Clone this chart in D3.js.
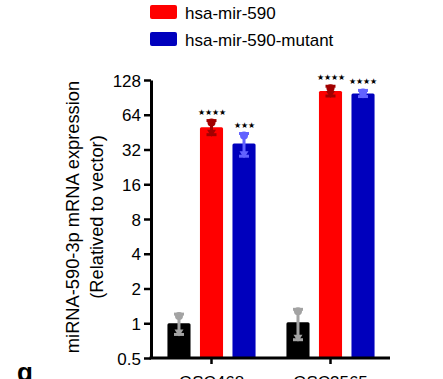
<!DOCTYPE html>
<html><head><meta charset="utf-8">
<script src="https://cdn.jsdelivr.net/npm/d3@7"></script>
<style>
html,body{margin:0;padding:0;background:#fff;overflow:hidden}
text{font-family:"Liberation Sans",Arial,sans-serif}
</style></head>
<body><svg id="c" width="443" height="379"></svg>
<script>
const categories = ["GSC468", "GSC3565"];
const series = ["vector", "hsa-mir-590", "hsa-mir-590-mutant"];
const legendSeries = ["hsa-mir-590", "hsa-mir-590-mutant"];
const meanVector = [1.0, 1.02];
const meanMir = [50, 103];
const meanMutant = [36, 98];
const sdVector = [0.2, 0.3];
const sdMir = [7, 10];
const sdMutant = [8, 6];
const stars = [["", "****", "***"], ["", "****", "****"]];
const yTicks = [0.5, 1, 2, 4, 8, 16, 32, 64, 128];
const yTickLabels = ["0.5", "1", "2", "4", "8", "16", "32", "64", "128"];

(function () {
const barColors = ["#000000", "#ff0000", "#0000bd"];
const errColors = ["#a3a3a3", "#a10000", "#6262ff"];

const svg = d3.select("#c");
const mLeft = 151, mRight = 390, mTop = 80, mBottom = 358;

const y = d3.scaleLog().base(2).domain([0.5, 128]).range([mBottom, mTop]);
const x0 = d3.scaleBand().domain(categories).range([152, mRight]).paddingInner(0).paddingOuter(0);
const x1 = d3.scaleBand().domain(series).range([0, x0.bandwidth()]).paddingInner(0.29).paddingOuter(0.475);

const means = [meanVector, meanMir, meanMutant];
const sds = [sdVector, sdMir, sdMutant];
const data = [];
categories.forEach((c, ci) => series.forEach((s, si) => {
  data.push({c, s, si, m: means[si][ci], sd: sds[si][ci], star: stars[ci][si]});
}));

// bars
svg.append("g").selectAll("rect").data(data).join("rect")
  .attr("x", d => x0(d.c) + x1(d.s))
  .attr("width", x1.bandwidth())
  .attr("y", d => y(d.m))
  .attr("height", d => y(0.5) - y(d.m))
  .attr("fill", d => barColors[d.si])
  .attr("rx", 1.5);

// error bars
const eb = svg.append("g").selectAll("g").data(data).join("g")
  .attr("transform", d => `translate(${x0(d.c) + x1(d.s) + x1.bandwidth()/2},0)`);
eb.append("line")
  .attr("y1", d => y(d.m + d.sd)).attr("y2", d => y(d.m - d.sd))
  .attr("stroke", d => errColors[d.si]).attr("stroke-width", 3);
eb.append("line")
  .attr("x1", -5).attr("x2", 5)
  .attr("y1", d => y(d.m + d.sd)).attr("y2", d => y(d.m + d.sd))
  .attr("stroke", d => errColors[d.si]).attr("stroke-width", 3);
eb.append("line")
  .attr("x1", -5).attr("x2", 5)
  .attr("y1", d => y(d.m - d.sd)).attr("y2", d => y(d.m - d.sd))
  .attr("stroke", d => errColors[d.si]).attr("stroke-width", 3);
eb.append("path")
  .attr("d", d => { const yy = y(d.m - d.sd); return `M-4.5,${yy-5}L4.5,${yy-5}L0,${yy+2}Z`; })
  .attr("fill", d => errColors[d.si]);
eb.append("circle")
  .attr("cy", d => y(d.m + d.sd) + 2).attr("r", 4)
  .attr("fill", d => errColors[d.si]);

// stars
svg.append("g").selectAll("text").data(data.filter(d => d.star)).join("text")
  .attr("x", d => x0(d.c) + x1(d.s) + x1.bandwidth()/2)
  .attr("y", d => y(d.m + d.sd) - 6)
  .attr("text-anchor", "middle")
  .attr("font-family", "DejaVu Sans")
  .attr("font-size", 8)
  .attr("fill", "#000")
  .text(d => d.star.replace(/\*/g, "\u2605"));

// y axis
const yAxis = d3.axisLeft(y).tickValues(yTicks).tickFormat((d, i) => yTickLabels[i]).tickSize(7).tickPadding(3).tickSizeOuter(0);
const gy = svg.append("g").attr("transform", `translate(${mLeft},0)`).call(yAxis);
gy.select(".domain").attr("stroke", "#000").attr("stroke-width", 3);
gy.selectAll(".tick line").attr("stroke-width", 2.5);
gy.selectAll(".tick text").attr("font-size", 17).attr("font-family", "Liberation Sans, Arial, sans-serif").attr("fill", "#000").attr("dy", "0.36em");

// x axis
const xAxis = d3.axisBottom(x0).tickSize(6).tickSizeOuter(0).tickPadding(12);
const gx = svg.append("g").attr("transform", `translate(0,${mBottom})`).call(xAxis);
gx.select(".domain").attr("stroke", "#000").attr("stroke-width", 3).attr("d", `M${mLeft - 1.5},0H${mRight}`);
gx.selectAll(".tick line").attr("stroke-width", 2.5);
gx.selectAll(".tick text").attr("font-size", 17).attr("font-family", "Liberation Sans, Arial, sans-serif").attr("fill", "#000");

// y label
const yl = svg.append("text")
  .attr("transform", `translate(79,217) rotate(-90)`)
  .attr("text-anchor", "middle").attr("font-size", 18.3).attr("fill", "#000");
yl.append("tspan").attr("x", 0).attr("dy", 0).text("miRNA-590-3p mRNA expression");
yl.append("tspan").attr("x", 0).attr("dy", 24).text("(Relatived to vector)");

// legend
const lg = svg.append("g").selectAll("g").data(legendSeries).join("g")
  .attr("transform", (d, i) => `translate(150,${5 + i * 27})`);
lg.append("rect").attr("width", 27).attr("height", 14).attr("rx", 2)
  .attr("fill", d => barColors[series.indexOf(d)]);
lg.append("text").attr("x", 35).attr("y", 13.5).attr("font-size", 17).attr("fill", "#000").text(d => d);

// panel label
svg.append("text").attr("x", 17).attr("y", 381).attr("font-size", 26).attr("font-weight", "bold").attr("fill", "#000").text("g");
})();
</script></body></html>
